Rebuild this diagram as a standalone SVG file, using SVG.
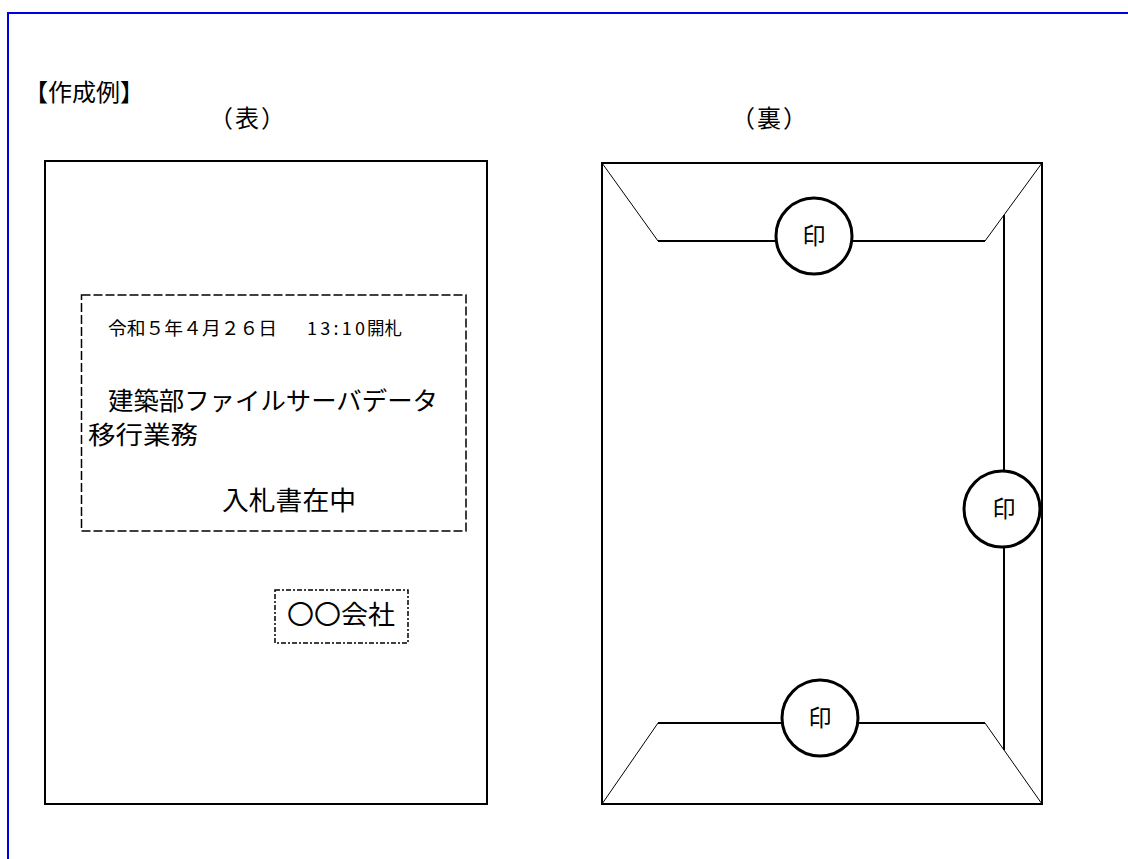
<svg xmlns="http://www.w3.org/2000/svg" width="1128" height="859" viewBox="0 0 1128 859">
<style>
text{font-family:"Noto Sans CJK JP","Noto Sans",sans-serif;fill:#000}
.env{fill:none;stroke:#000;stroke-width:2}
.thin{fill:none;stroke:#000;stroke-width:1}
.flap{fill:none;stroke:#000;stroke-width:2}
.seal{fill:#fff;stroke:#000;stroke-width:3}
.seal-t{font-size:23px;text-anchor:middle}
.l1{font-size:18px}
</style>
<rect width="1128" height="859" fill="#fff"/>
<path d="M8,862 V13 H1131" fill="none" stroke="#0000dd" stroke-width="2"/>
<g id="header">
<text x="24" y="101" font-size="24">【作成例】</text>
<text x="209" y="127" font-size="24" letter-spacing="2">（表）</text>
<text x="731" y="127" font-size="24" letter-spacing="2">（裏）</text>
</g>
<g id="front">
<rect class="env" x="45" y="161" width="442" height="643"/>
<g id="address-box">
<rect x="81.5" y="295" width="384.5" height="236" fill="none" stroke="#000" stroke-width="1.5" stroke-dasharray="9 3"/>
<text class="l1" x="108" y="335" textLength="169" lengthAdjust="spacingAndGlyphs">令和５年４月２６日</text>
<text class="l1" x="307" y="335" textLength="58" lengthAdjust="spacing">13:10</text>
<text class="l1" x="367" y="335" textLength="35" lengthAdjust="spacingAndGlyphs">開札</text>
<text x="108" y="410" font-size="25" textLength="330" lengthAdjust="spacingAndGlyphs">建築部ファイルサーバデータ</text>
<text x="88" y="444" font-size="25" textLength="110" lengthAdjust="spacingAndGlyphs">移行業務</text>
<text x="222" y="510" font-size="26" textLength="134" lengthAdjust="spacingAndGlyphs">入札書在中</text>
</g>
<g id="company-box">
<rect x="275" y="590" width="133" height="53" fill="none" stroke="#000" stroke-width="1.5" stroke-dasharray="5 2 2 2"/>
<text x="287" y="624" font-size="26" textLength="108" lengthAdjust="spacingAndGlyphs">〇〇会社</text>
</g>
</g>
<g id="back">
<rect class="env" x="602" y="163" width="440" height="641"/>
<g id="flaps">
<path class="thin" d="M602,163 L658,241 M1042,163 L985,241 M602,804 L658,723 M1042,804 L985,723"/>
<path class="flap" d="M658,241 H985 M658,723 H985 M1004,215 V750"/>
</g>
<g id="seal-top">
<circle class="seal" cx="814" cy="236" r="38"/>
<text class="seal-t" x="814" y="244">印</text>
</g>
<g id="seal-right">
<circle class="seal" cx="1002" cy="509" r="38"/>
<text class="seal-t" x="1004" y="517">印</text>
</g>
<g id="seal-bottom">
<circle class="seal" cx="820" cy="718" r="38"/>
<text class="seal-t" x="820" y="726">印</text>
</g>
</g>
</svg>
